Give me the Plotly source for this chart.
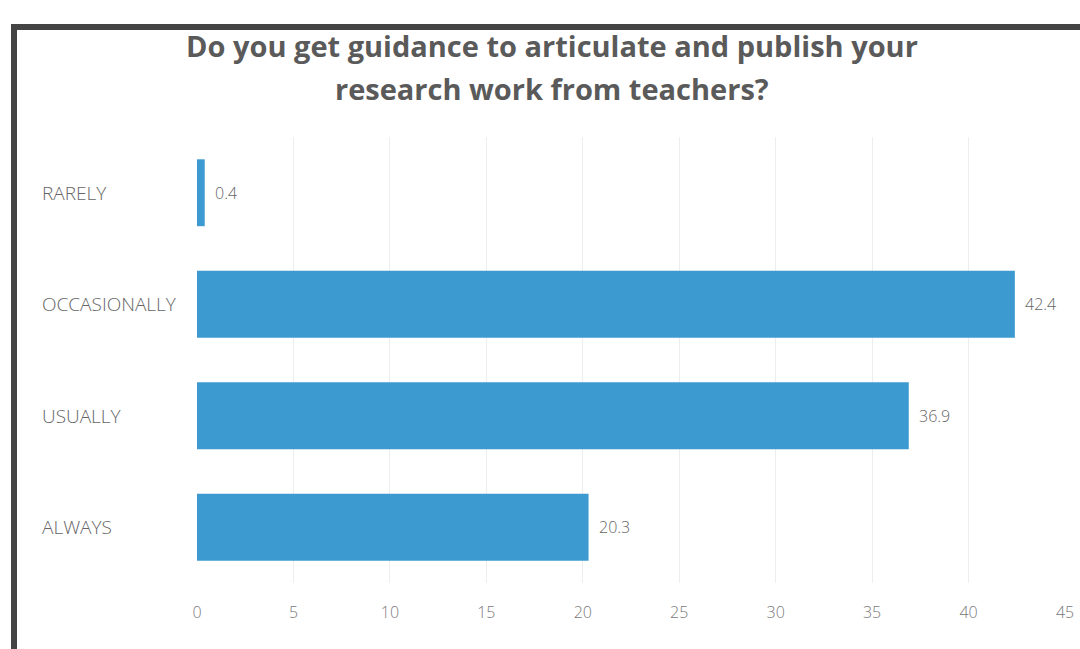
import plotly.graph_objects as go

categories = ["RARELY", "OCCASIONALLY", "USUALLY", "ALWAYS"]
values = [0.4, 42.4, 36.9, 20.3]
tick_vals = [0, 5, 10, 15, 20, 25, 30, 35, 40, 45]
title_lines = ["Do you get guidance to articulate and publish your",
               "research work from teachers?"]

W, H = 1080, 649
L, R, T, B = 197, W - 1065, 137, H - 583
pw, ph = W - L - R, H - T - B

def px_x(p):
    return (p - L) / pw

def px_y(p):
    return 1 - (p - T) / ph

fig = go.Figure()
fig.add_trace(go.Bar(
    y=categories, x=values, orientation="h",
    marker=dict(color="#3C9AD0", line=dict(width=0)),
    width=0.6, hoverinfo="x+y",
))

annotations = []
for c in categories:
    annotations.append(dict(
        x=px_x(40), xref="paper", y=c, yref="y", xanchor="left",
        text=c, showarrow=False,
        font=dict(family="Open Sans", size=19, color="#666666", weight=300),
    ))
for c, v in zip(categories, values):
    annotations.append(dict(
        x=v, xref="x", y=c, yref="y", xanchor="left", xshift=8,
        text=f"{v}", showarrow=False,
        font=dict(family="Open Sans", size=16, color="#666666", weight=300),
    ))
for line, py in zip(title_lines, [45, 88]):
    annotations.append(dict(
        x=px_x(552), xref="paper", y=px_y(py), yref="paper",
        xanchor="center", yanchor="middle", text=line, showarrow=False,
        font=dict(family="Open Sans", size=29, color="#5a5a5a", weight="bold"),
    ))

border = dict(color="#444444", width=6)
fig.update_layout(
    width=W, height=H,
    margin=dict(l=L, r=R, t=T, b=B, autoexpand=False),
    paper_bgcolor="white", plot_bgcolor="white",
    showlegend=False,
    xaxis=dict(
        range=[0, 45], tickvals=tick_vals, showgrid=True, gridcolor="#eeeeee",
        gridwidth=1, zeroline=False, showline=False, automargin=False,
        ticks="outside", ticklen=15, tickcolor="rgba(0,0,0,0)",
        tickfont=dict(family="Open Sans", size=16, color="#7a7a7a", weight=300),
    ),
    yaxis=dict(
        categoryorder="array", categoryarray=categories[::-1], automargin=False,
        showticklabels=False, showgrid=False, zeroline=False, showline=False,
    ),
    annotations=annotations,
    shapes=[
        dict(type="line", xref="paper", yref="paper",
             x0=px_x(14), x1=px_x(14), y0=px_y(27), y1=px_y(700), line=border),
        dict(type="line", xref="paper", yref="paper",
             x0=px_x(11), x1=px_x(1120), y0=px_y(27), y1=px_y(27), line=border),
    ],
)

fig.write_html(
    "out.html",
    config={"displayModeBar": False},
    post_script="document.body.style.margin='0';document.body.style.overflow='hidden';",
)
